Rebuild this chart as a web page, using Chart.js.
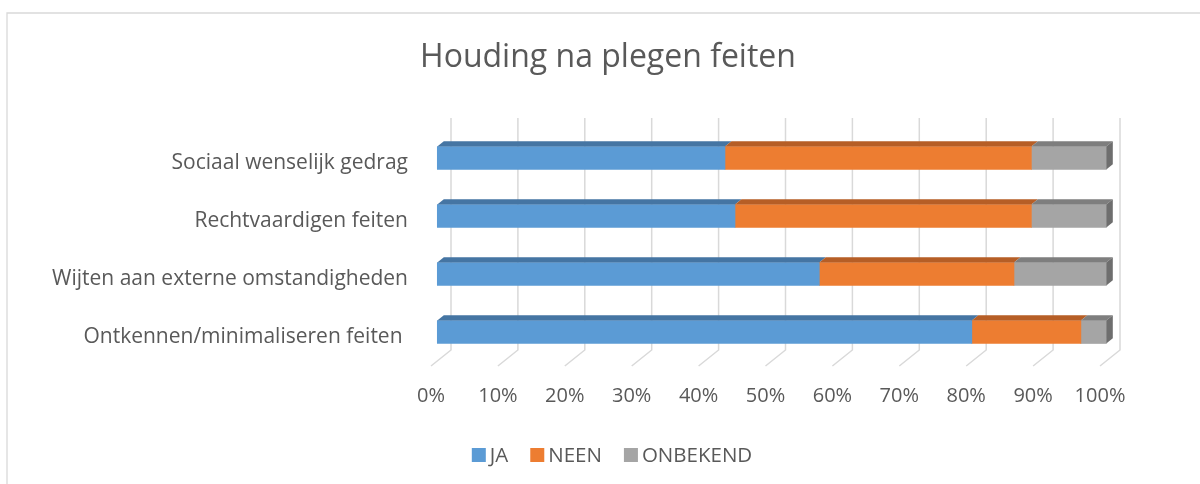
<!DOCTYPE html>
<html>
<head>
<meta charset="utf-8">
<title>Houding na plegen feiten</title>
<script src="https://cdn.jsdelivr.net/npm/chart.js@4.4.1/dist/chart.umd.min.js"></script>
<style>
  html, body { margin:0; padding:0; background:#fff; }
  #wrap { width:1200px; height:484px; }
</style>
</head>
<body>
<div id="wrap"><canvas id="chart" width="1200" height="484"></canvas></div>
<script>
// Houding na plegen feiten - 100% gestapelde balk met 3D-look

const TITLE = "Houding na plegen feiten";
const categories = [
  "Sociaal wenselijk gedrag",
  "Rechtvaardigen feiten",
  "Wijten aan externe omstandigheden",
  "Ontkennen/minimaliseren feiten "
];
const ja       = [43, 44.5, 57.1, 79.9];
const neen     = [45.8, 44.3, 29.1, 16.3];
const onbekend = [11.2, 11.2, 13.8, 3.8];
const xTicks   = [0, 10, 20, 30, 40, 50, 60, 70, 80, 90, 100];

const TEXT = "#595959";
const FONT = "'Open Sans', 'DejaVu Sans', sans-serif";
const colors = {
  front: ["#5B9BD5", "#ED7D31", "#A5A5A5"],
  top:   ["#4575A3", "#B65E26", "#7E7E7E"],
  side:  "#6E6E6E",
};

// depth of the 3D box: wall is 20px right, 16px up from the floor front
const WALL = {dx: 20, dy: -16};
const FRONT = {dx: 6.3, dy: -5};      // bar front face
const DEPTH = {dx: 6.5, dy: -5.2};    // bar front -> bar back

function fill(ctx, pts, color){
  ctx.beginPath();
  ctx.moveTo(pts[0][0], pts[0][1]);
  for (let i=1;i<pts.length;i++) ctx.lineTo(pts[i][0], pts[i][1]);
  ctx.closePath();
  ctx.fillStyle = color;
  ctx.fill();
}

const faces = {
  id: "faces",
  beforeDraw(chart){
    const ctx = chart.ctx;
    ctx.save();
    ctx.strokeStyle = "#d9d9d9";
    ctx.lineWidth = 1.3;
    ctx.beginPath();
    ctx.moveTo(7, 490); ctx.lineTo(7, 13); ctx.lineTo(1205, 13);
    ctx.stroke();
    ctx.restore();
  },
  beforeDatasetsDraw(chart){
    const {ctx, chartArea:a} = chart;
    const xs = chart.scales.x;
    ctx.save();
    ctx.strokeStyle = "#d9d9d9";
    ctx.lineWidth = 1.5;
    xTicks.forEach(v=>{
      const px = xs.getPixelForValue(v);
      ctx.beginPath();
      ctx.moveTo(px + WALL.dx, a.top + WALL.dy);
      ctx.lineTo(px + WALL.dx, a.bottom + WALL.dy);
      ctx.lineTo(px, a.bottom);
      ctx.stroke();
    });
    ctx.restore();
    ctx.save();
    ctx.translate(FRONT.dx, FRONT.dy);
  },
  afterDatasetsDraw(chart){
    const ctx = chart.ctx;
    ctx.restore();
    const n = chart.data.datasets.length;
    for (let d=0; d<n; d++){
      const meta = chart.getDatasetMeta(d);
      meta.data.forEach(bar=>{
        const p = bar.getProps(["x","base","y","height"], true);
        const l = Math.min(p.x, p.base) + FRONT.dx;
        const r = Math.max(p.x, p.base) + FRONT.dx;
        const t = p.y - p.height/2 + FRONT.dy;
        const b = p.y + p.height/2 + FRONT.dy;
        fill(ctx, [[l,t],[l+DEPTH.dx,t+DEPTH.dy],[r+DEPTH.dx,t+DEPTH.dy],[r,t]], colors.top[d]);
        if (d === n-1){
          fill(ctx, [[r,t],[r+DEPTH.dx,t+DEPTH.dy],[r+DEPTH.dx,b+DEPTH.dy],[r,b]], colors.side);
        }
      });
    }
  },
  afterDraw(chart){
    const ctx = chart.ctx;
    ctx.save();
    ctx.fillStyle = TEXT;
    ctx.font = "32px " + FONT;
    ctx.textAlign = "center";
    ctx.textBaseline = "alphabetic";
    ctx.fillText(TITLE, 608, 67);

    // legend
    ctx.font = "20.5px " + FONT;
    ctx.textAlign = "left";
    ctx.textBaseline = "middle";
    const items = chart.data.datasets.map((ds,i)=>({label: ds.label, color: colors.front[i]}));
    const box = 14, gapText = 4, gapItem = 22;
    const widths = items.map(it=>box + gapText + ctx.measureText(it.label).width);
    const total = widths.reduce((s,w)=>s+w,0) + gapItem*(items.length-1);
    let x = 612 - total/2;
    const cy = 455;
    items.forEach((it,i)=>{
      ctx.fillStyle = it.color;
      ctx.fillRect(x, cy - box/2, box, box);
      ctx.fillStyle = TEXT;
      ctx.fillText(it.label, x + box + gapText, cy + 1);
      x += widths[i] + gapItem;
    });
    ctx.restore();
  }
};

function draw(){
  new Chart(document.getElementById("chart"), {
    type: "bar",
    data: {
      labels: categories,
      datasets: [
        {label: "JA", data: ja, backgroundColor: colors.front[0]},
        {label: "NEEN", data: neen, backgroundColor: colors.front[1]},
        {label: "ONBEKEND", data: onbekend, backgroundColor: colors.front[2]},
      ].map(ds=>({...ds, barThickness: 23, borderWidth: 0, clip: false}))
    },
    options: {
      indexAxis: "y",
      responsive: false,
      animation: false,
      layout: { padding: {top: 134, right: 100, bottom: 58, left: 0} },
      plugins: { legend: {display: false}, title: {display: false}, tooltip: {enabled: false} },
      scales: {
        x: {
          stacked: true, min: 0, max: 100,
          afterBuildTicks(scale){ scale.ticks = xTicks.map(v=>({value: v})); },
          afterFit(scale){ scale.height = 60; },
          grid: {display: false, drawTicks: false},
          border: {display: false},
          ticks: {padding: 18, color: TEXT, font: {family: FONT, size: 20}, callback: v=>v + "%"}
        },
        y: {
          stacked: true,
          afterFit(scale){ scale.width = 431; },
          grid: {display: false, drawTicks: false},
          border: {display: false},
          ticks: {padding: 23, color: TEXT, font: {family: FONT, size: 21}}
        }
      }
    },
    plugins: [faces]
  });
}

document.fonts.load("20px 'Open Sans'").then(draw, draw);
</script>
</body>
</html>
